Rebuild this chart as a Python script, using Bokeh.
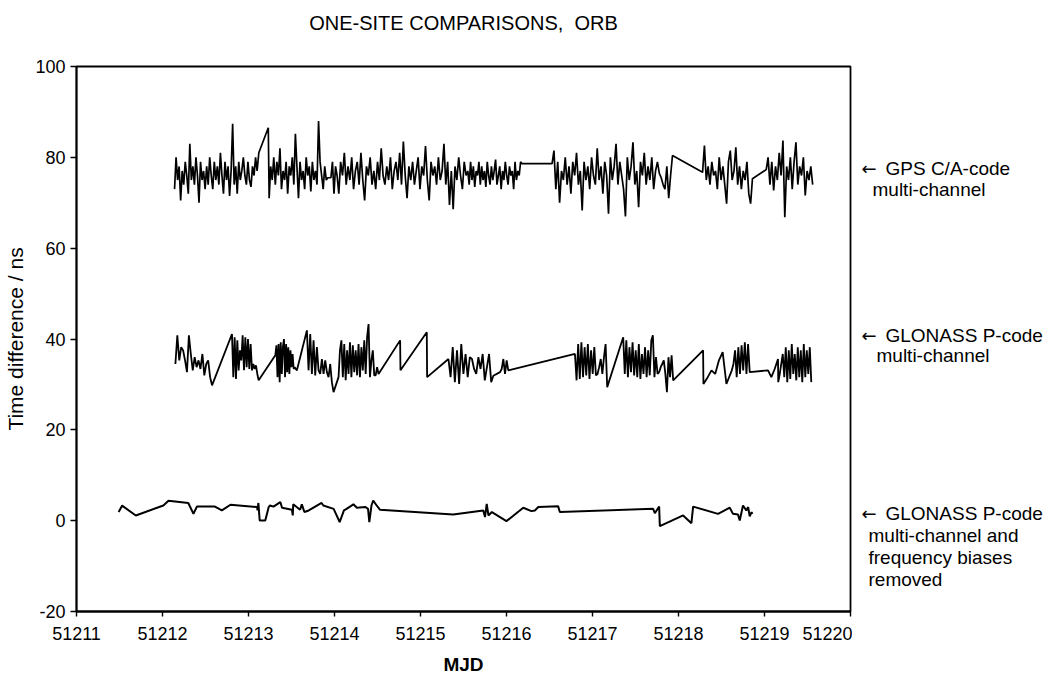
import numpy as np
from bokeh.plotting import figure
from bokeh.layouts import row, column
from bokeh.models import FixedTicker, Range1d
from bokeh.core.properties import value
from bokeh.embed import file_html
from bokeh.resources import INLINE

# ---------------- data ----------------
x_ticks = [51211, 51212, 51213, 51214, 51215, 51216, 51217, 51218, 51219, 51220]
y_ticks = [-20, 0, 20, 40, 60, 80, 100]

# GPS C/A-code multi-channel (ns); each run of samples is evenly spaced in MJD
gps_run_start = [51212.14, 51213.12, 51213.24, 51214.05, 51215.55, 51216.53, 51218.28, 51219.02]
gps_run_end = [51213.10, 51213.23, 51214.03, 51215.53, 51216.18, 51217.93, 51218.86, 51219.56]
gps_run_values = [
    [73, 80, 75, 78, 70.5, 77, 74, 79, 76, 72, 83, 75, 78, 74, 80, 76, 70, 79, 75, 77,
     73, 78, 74, 80, 76, 73, 79, 75, 78, 74, 81, 76, 72, 79, 75, 78, 71.5, 77, 87.4, 74,
     78, 72, 79, 75, 77, 80, 76, 74, 79, 75, 73.5, 78, 76, 80, 77],
    [81, 86.5],
    [71, 78, 75, 80, 74, 79, 76, 82, 73, 77, 75, 79, 72, 78, 76, 80, 74, 85.2, 78, 71,
     79, 75, 77, 73, 80, 76, 78, 72.5, 79, 75, 77, 74, 88, 79, 76, 73, 78, 75, 75.5, 75.5,
     75.5, 79, 72, 78, 76],
    [72, 79, 76, 81, 74, 78, 75, 80, 73, 77, 79, 74, 81, 75, 70.5, 78, 76, 80, 74, 77,
     73, 79, 75, 82, 76, 74, 78, 75, 80, 73, 77, 79, 75, 81, 74, 83.5, 76, 71, 78, 75,
     79, 74, 77, 80, 73, 78, 76, 82.5, 75, 70.5, 79, 76, 78, 74, 80, 75, 77, 83, 74, 79,
     69.5, 77, 68.6, 78, 75, 80, 76, 73, 79, 76],
    [77, 74, 79, 75, 78, 73.5, 77, 76, 79, 74, 78, 75, 77, 73.5, 79, 76, 74, 78, 75, 77,
     79.5, 74, 76, 78, 73, 77, 75, 79, 76, 74, 78, 76, 77, 73, 79, 75, 77, 76, 79, 78.6],
    [78.6, 81.5, 73, 79, 70, 77, 75, 80, 74, 78, 72, 79, 76, 81, 74, 77, 68.3, 79, 75, 78,
     73, 80, 76, 74, 82, 75, 78, 72, 79, 76, 67.6, 80, 75, 78, 83, 74, 79, 76, 73, 67,
     80, 75, 78, 83.3, 74, 77, 69, 79, 76, 81, 74, 78, 75, 80, 73, 77, 79, 76.5, 75.5, 74,
     73, 78, 71, 76, 80.4],
    [76.7, 82.6, 75, 78, 74, 79, 76, 77, 73, 80, 75, 78, 74, 69.8, 79, 81.5, 75, 77, 82.2, 74,
     78, 73, 77, 75, 79, 72, 69.8, 75.3],
    [77.3, 80, 74, 79, 72.7, 78, 75, 81, 76, 83.7, 66.8, 78, 75, 80, 73, 79, 83.3, 74, 78, 76,
     80, 71.6, 77, 75, 78, 74],
]

# GLONASS P-code multi-channel (ns)
glo_run_start = [51212.15, 51212.808, 51213.312, 51213.679, 51214.047, 51214.763, 51215.073,
                 51215.325, 51215.925, 51216.796, 51217.357, 51218.286, 51218.34, 51218.62,
                 51219.041, 51219.16]
glo_run_end = [51212.576, 51213.118, 51213.563, 51213.989, 51214.512, 51214.767, 51215.077,
               51215.847, 51216.021, 51217.171, 51217.938, 51218.290, 51218.557, 51218.828,
               51219.157, 51219.544]
glo_run_values = [
    [34.5, 40.8, 35.3, 38.2, 37.5, 35.3, 32.7, 40.8, 36.7, 33.1, 36.0, 33.8, 35.3, 33.4, 36.7,
     32.0, 34.5, 35.3, 31.6, 29.8],
    [41.1, 31.6, 40.4, 31.2, 39.7, 33.1, 37.5, 35.3, 40.8, 33.1, 40.4, 33.8, 40.0, 33.4, 38.9,
     33.1, 34.5, 33.4, 34.2, 32.3, 30.9],
    [36.4, 38.6, 31.6, 38.9, 30.5, 39.3, 32.3, 38.2, 40.0, 31.6, 38.9, 32.7, 38.2, 32.3, 37.5,
     33.8, 36.7, 33.4, 33.8, 33.4, 33.1],
    [41.9, 33.1, 41.1, 32.3, 39.7, 32.0, 38.2, 33.1, 32.3, 35.6, 32.3, 35.3, 32.7, 31.6, 34.5,
     30.5, 28.3],
    [31.6, 37.5, 39.7, 31.6, 38.9, 30.9, 37.5, 32.3, 39.3, 31.6, 38.6, 32.7, 37.5, 32.0, 38.9,
     31.6, 38.2, 33.1, 39.7, 32.3, 40.4, 43.3, 31.6, 35.3, 37.5, 32.0, 32.0, 33.8, 32.3],
    [39.7, 33.1],
    [41.5, 31.6],
    [35.6, 31.6, 38.2, 30.5, 37.5, 30.1, 38.9, 32.3, 36.7, 31.6, 36.0, 35.6, 33.4, 32.3, 36.0,
     33.4, 36.7, 30.9, 33.8, 36.7, 30.5, 31.9],
    [32.7, 33.4, 35.6, 32.3, 35.3, 33.1],
    [36.7, 30.9, 38.9, 31.2, 39.3, 31.6, 38.2, 32.0, 38.9, 31.2, 37.5, 32.3, 38.2, 32.0, 32.3,
     33.8, 35.6, 32.3, 36.0, 38.9, 29.4],
    [40.4, 32.3, 39.7, 31.6, 38.2, 32.7, 39.3, 32.0, 37.5, 31.6, 38.9, 31.2, 36.7, 32.3, 38.2,
     31.6, 37.5, 32.0, 39.7, 40.8, 31.6, 36.0, 32.3, 32.7, 33.8, 34.5, 35.3, 32.3, 28.3, 36.0,
     31.6, 36.4, 30.9],
    [37.5, 30.1],
    [31.6, 33.1, 32.3, 35.3, 37.1, 30.1],
    [33.1, 34.5, 37.5, 31.6, 38.2, 32.3, 38.6, 33.1, 39.3, 32.3, 38.9, 32.7],
    [33.1, 31.6, 33.4, 35.6],
    [30.5, 32.3, 34.5, 36.7, 31.6, 38.2, 30.5, 37.5, 31.2, 38.9, 32.3, 36.7, 30.9, 38.2, 31.6,
     37.5, 30.5, 38.9, 31.6, 37.5, 32.3, 38.2, 30.5],
]

# GLONASS P-code multi-channel, frequency biases removed (ns)
fb_mjd = [51211.49, 51211.53, 51211.69, 51212.01, 51212.07, 51212.30, 51212.36, 51212.40,
          51212.61, 51212.69, 51212.79, 51213.10, 51213.105, 51213.115, 51213.13, 51213.195,
          51213.235, 51213.25, 51213.29, 51213.37, 51213.39, 51213.505, 51213.515, 51213.52,
          51213.56, 51213.60, 51213.62, 51213.65, 51213.70, 51213.85, 51213.87, 51213.99,
          51214.06, 51214.11, 51214.14, 51214.22, 51214.26, 51214.36, 51214.39, 51214.405,
          51214.43, 51214.45, 51214.49, 51214.53, 51215.38, 51215.73, 51215.75, 51215.77,
          51215.79, 51215.83, 51216.00, 51216.195, 51216.29, 51216.33, 51216.37, 51216.60,
          51216.62, 51217.705, 51217.725, 51217.775, 51217.783, 51218.054, 51218.150, 51218.170,
          51218.46, 51218.596, 51218.634, 51218.692, 51218.712, 51218.750, 51218.789, 51218.81,
          51218.828, 51218.85, 51218.859]
fb_ns = [1.9, 3.3, 1.15, 3.35, 4.4, 3.9, 1.5, 3.1,
         3.1, 2.25, 3.5, 3.0, 2.25, 3.9, 0.05, 0.05,
         3.0, 3.35, 3.1, 4.1, 2.85, 2.4, 1.15, 3.6,
         3.0, 2.4, 3.6, 1.9, 2.25, 3.9, 3.35, 2.6,
         -0.3, 2.25, 2.6, 3.6, 2.85, 3.0, 2.6, -0.3,
         3.35, 4.45, 3.35, 2.4, 1.35, 2.25, 0.8, 3.7,
         1.15, 1.9, -0.1, 2.85, 2.1, 2.25, 3.0, 3.2,
         1.9, 2.6, 1.65, 3.1, -1.2, 1.15, -0.55, 3.1,
         1.5, 2.85, 1.5, 1.35, 0.05, 3.35, 2.25, 3.0,
         0.95, 1.9, 1.5]

title_text = "ONE-SITE COMPARISONS,\u00a0 ORB"

# series descriptions shown to the right of the plot
arrow_level = [77.5, 40.8, 1.6]
note_text = ["GPS C/A-code", "multi-channel",
             "GLONASS P-code", "multi-channel",
             "GLONASS P-code", "multi-channel and", "frequency biases", "removed"]
note_level = [77.5, 72.9, 40.8, 36.4, 1.6, -3.25, -8.1, -12.95]
note_indent = [33, 20, 33, 24, 33, 16, 16, 16]


def build(starts, ends, values):
    xs, ys = [], []
    for a, b, v in zip(starts, ends, values):
        xs.extend(np.linspace(a, b, len(v)).tolist())
        ys.extend(v)
    return xs, ys


gps_x, gps_y = build(gps_run_start, gps_run_end, gps_run_values)
glo_x, glo_y = build(glo_run_start, glo_run_end, glo_run_values)

FONT = "Liberation Sans"
TOTAL_W = 1045
HEAD = 40
H = 640
TOP = 66 - HEAD
BOTTOM = (HEAD + H) - 611

# ---- title strip ----
head = figure(width=TOTAL_W, height=HEAD, output_backend="svg", toolbar_location=None,
              x_range=Range1d(0, TOTAL_W), y_range=Range1d(0, HEAD),
              min_border_left=0, min_border_right=0, min_border_top=0, min_border_bottom=0)
head.axis.visible = False
head.grid.visible = False
head.outline_line_color = None
head.text(x=[463], y=[HEAD - 22], text=[title_text], text_font=value(FONT),
          text_font_size=value("20px"), text_color="black", text_align="center",
          text_baseline="middle")

# ---- main plot ----
p = figure(width=852, height=H, output_backend="svg", toolbar_location=None,
           x_range=Range1d(51211, 51220), y_range=Range1d(-20, 100),
           min_border_left=76, min_border_right=2, min_border_top=TOP,
           min_border_bottom=BOTTOM)

p.line(gps_x, gps_y, line_color="black", line_width=1.7)
p.line(glo_x, glo_y, line_color="black", line_width=1.8)
p.line(fb_mjd, fb_ns, line_color="black", line_width=2.0)

p.grid.visible = False
p.outline_line_color = "black"
p.outline_line_width = 1.8
p.background_fill_color = "white"
p.border_fill_color = "white"

p.xaxis.ticker = FixedTicker(ticks=x_ticks)
p.yaxis.ticker = FixedTicker(ticks=y_ticks)
p.xaxis.formatter.use_scientific = False
p.yaxis.major_label_overrides = {-20: "-20"}
for ax in (p.xaxis, p.yaxis):
    ax.axis_line_color = "black"
    ax.axis_line_width = 1.8
    ax.major_tick_line_color = "black"
    ax.major_tick_line_width = 1.4
    ax.major_tick_in = 0
    ax.minor_tick_line_color = None
    ax.major_label_text_font = FONT
    ax.major_label_text_font_size = "18px"
    ax.major_label_text_color = "black"
    ax.axis_label_text_font = FONT
    ax.axis_label_text_color = "black"
    ax.axis_label_text_font_style = "normal"

p.xaxis.major_tick_out = 5
p.xaxis.major_label_standoff = 10
p.xaxis.axis_label = "MJD"
p.xaxis.axis_label_text_font_size = "19px"
p.xaxis.axis_label_text_font_style = "bold"
p.xaxis.axis_label_standoff = 11

p.yaxis.major_tick_out = 6
p.yaxis.major_label_standoff = 5
p.yaxis.axis_label = "Time difference / ns"
p.yaxis.axis_label_text_font_size = "21px"
p.yaxis.axis_label_standoff = 5

# ---- side panel carrying the series descriptions, sharing the y scale ----
side = figure(width=TOTAL_W - 852, height=H, output_backend="svg", toolbar_location=None,
              x_range=Range1d(0, TOTAL_W - 852), y_range=p.y_range,
              min_border_left=0, min_border_right=0, min_border_top=TOP,
              min_border_bottom=BOTTOM)
side.axis.visible = False
side.grid.visible = False
side.outline_line_color = None
side.background_fill_color = "white"
side.border_fill_color = "white"
side.text(x=[9] * len(arrow_level), y=arrow_level, text=["\u2190"] * len(arrow_level),
          text_font=value("DejaVu Sans"), text_font_size=value("18px"), text_color="black",
          text_align="left", text_baseline="middle")
side.text(x=note_indent, y=note_level, text=note_text, text_font=value(FONT),
          text_font_size=value("19px"), text_color="black", text_align="left",
          text_baseline="middle")

layout = column(head, row(p, side, spacing=0), spacing=0)
open("out.html", "w").write(file_html(layout, INLINE))
